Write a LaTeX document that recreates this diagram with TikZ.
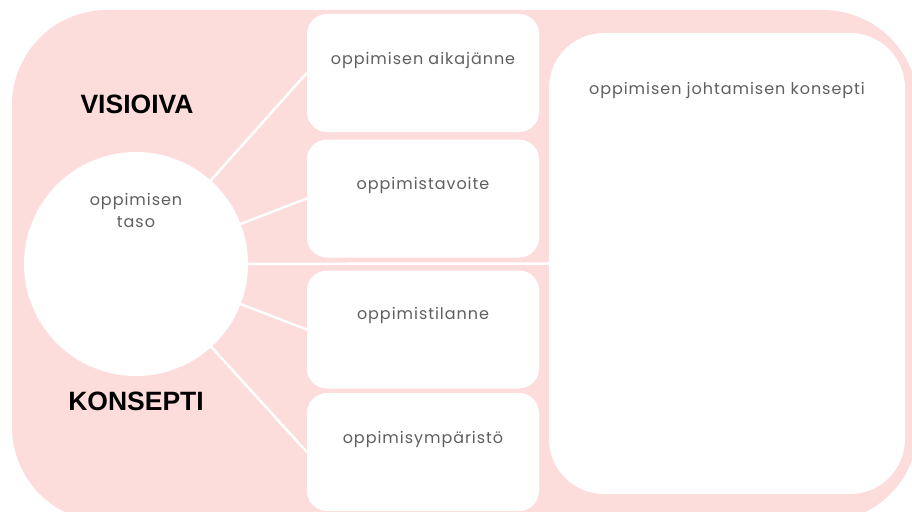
\documentclass[tikz,border=0pt]{standalone}
\usepackage{fontspec}
\setmainfont{Poppins}[LetterSpace=6]
\newfontfamily\headfont{Liberation Sans}
\definecolor{blush}{RGB}{253,220,220}
\definecolor{labelgray}{RGB}{95,95,95}
\begin{document}
\begin{tikzpicture}[x=1pt,y=-1pt,
  card/.style={draw=none,fill=white,rounded corners=20pt,minimum width=232pt,minimum height=118pt,inner sep=0pt},
  panel/.style={draw=none,fill=white,rounded corners=55pt,minimum width=356pt,minimum height=461pt,inner sep=0pt},
  hub/.style={circle,fill=white,minimum size=224pt,inner sep=0pt},
  cardtext/.style={text=labelgray,font=\fontsize{16}{19}\selectfont,inner sep=0pt},
  heading/.style={font=\headfont\bfseries\fontsize{26.5}{30}\selectfont,text=black,inner sep=0pt},
  spoke/.style={draw=white,line width=2.5pt}]
\useasboundingbox (0,0) rectangle (912,511);
% pink backdrop
\fill[blush,rounded corners=95pt] (12,10) rectangle (918,522);
% hub, cards and the large panel
\node[hub] (circ) at (136,264) {};
\node[card] (b1) at (423,73) {};
\node[card] (b2) at (423,198.5) {};
\node[card] (b3) at (423,329.5) {};
\node[card] (b4) at (423,452) {};
\node[panel] (big) at (727,263.5) {};
% spokes from the hub
\draw[spoke] (circ) -- (b1.west);
\draw[spoke] (circ) -- (b2.west);
\draw[spoke] (circ) -- (big.west);
\draw[spoke] (circ) -- (b3.west);
\draw[spoke] (circ) -- (b4.west);
% texts
\node[cardtext] (t1) at (423,60) {oppimisen aikajänne};
\node[cardtext] (t2) at (423,185) {oppimistavoite};
\node[cardtext] (t3) at (423,315) {oppimistilanne};
\node[cardtext] (t4) at (423,439) {oppimisympäristö};
\node[cardtext] (tb) at (727,90) {oppimisen johtamisen konsepti};
\node[cardtext,align=center,font=\fontsize{16}{22}\selectfont] (tc) at (136,210) {oppimisen\\taso};
\node[heading] (h1) at (137,104) {VISIOIVA};
\node[heading] (h2) at (136,401) {KONSEPTI};
\end{tikzpicture}
\end{document}
